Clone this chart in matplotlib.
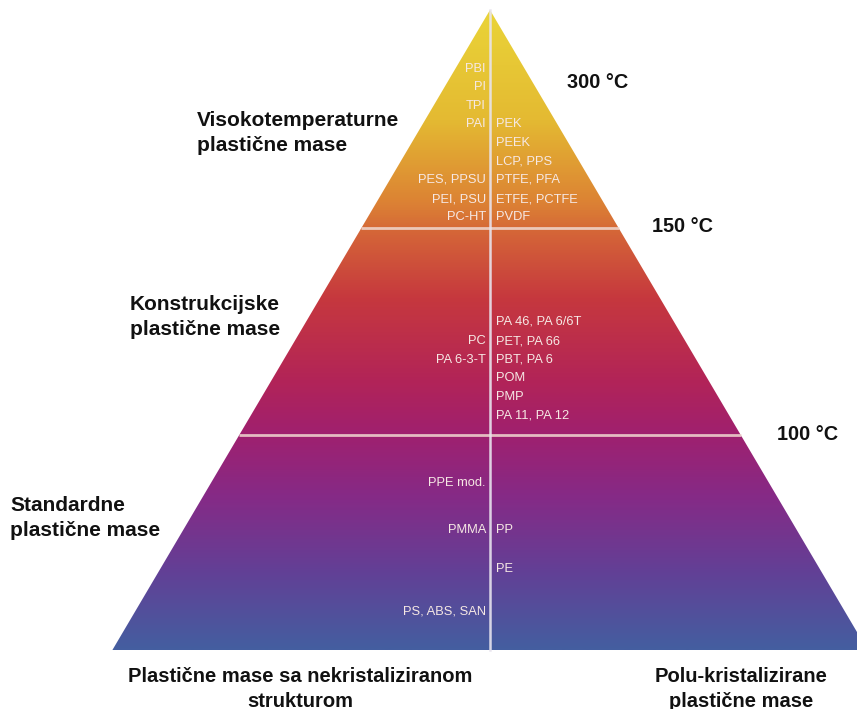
import numpy as np
import matplotlib
matplotlib.use("Agg")
import matplotlib.pyplot as plt
from matplotlib.colors import LinearSegmentedColormap
from matplotlib.patches import Polygon

plt.rcParams['font.family'] = ['Liberation Sans', 'DejaVu Sans']

# --- data ---
temperatures = ["300 °C", "150 °C", "100 °C"]
groups = ["Visokotemperaturne\nplastične mase",
          "Konstrukcijske\nplastične mase",
          "Standardne\nplastične mase"]
bottom_labels = ["Plastične mase sa nekristaliziranom\nstrukturom",
                 "Polu-kristalizirane\nplastične mase"]

# amorphous (left) and semi-crystalline (right) materials, with row positions (px from top)
left_names = ["PBI", "PI", "TPI", "PAI", "PES, PPSU", "PEI, PSU", "PC-HT",
              "PC", "PA 6-3-T",
              "PPE mod.", "PMMA", "PS, ABS, SAN"]
left_rows = [69, 87, 106, 124, 180, 199, 217,
             341, 360,
             483, 530, 612]
right_names = ["PEK", "PEEK", "LCP, PPS", "PTFE, PFA", "ETFE, PCTFE", "PVDF",
               "PA 46, PA 6/6T", "PET, PA 66", "PBT, PA 6", "POM", "PMP", "PA 11, PA 12",
               "PP", "PE"]
right_rows = [124, 143, 162, 180, 199, 217,
              322, 341, 360, 378, 397, 415,
              530, 569]

# --- layout ---
W, H = 857, 709
apex = (490, 10)
base_y = 650
slope = 0.59
band_y = [228, 435]

fig = plt.figure(figsize=(W / 100, H / 100), dpi=100)
ax = fig.add_axes([0, 0, 1, 1])
ax.set_xlim(0, W)
ax.set_ylim(H, 0)
ax.axis("off")

left_x = apex[0] - slope * (base_y - apex[1])
right_x = apex[0] + slope * (base_y - apex[1])
tri = Polygon([apex, (left_x, base_y), (right_x, base_y)], closed=True,
              facecolor="none", edgecolor="none")
ax.add_patch(tri)

stops = [(0.00, (234, 212, 56)),
         (0.17, (228, 186, 50)),
         (0.30, (220, 130, 52)),
         (0.35, (212, 100, 56)),
         (0.45, (198, 56, 62)),
         (0.58, (178, 36, 88)),
         (0.66, (160, 32, 110)),
         (0.76, (134, 42, 134)),
         (0.88, (98, 64, 150)),
         (1.00, (68, 94, 160))]
cmap = LinearSegmentedColormap.from_list(
    "pyr", [(p, tuple(c / 255 for c in rgb)) for p, rgb in stops])
grad = np.linspace(0, 1, 512).reshape(-1, 1)
im = ax.imshow(grad, cmap=cmap, aspect="auto",
               extent=(left_x, right_x, base_y, apex[1]), zorder=1)
im.set_clip_path(tri)

# band separators and central divider
for y in band_y:
    half = slope * (y - apex[1])
    ax.plot([apex[0] - half, apex[0] + half], [y, y], color="#f0d8d0",
            lw=2, alpha=0.85, zorder=2, solid_capstyle="butt")
ax.plot([apex[0], apex[0]], [apex[1], base_y], color="#e8e4ee", lw=1.8,
        alpha=0.9, zorder=2)

txt_col = "#f6e8e4"
for name, y in zip(left_names, left_rows):
    ax.text(apex[0] - 4, y, name, ha="right", va="center", fontsize=9.3,
            color=txt_col, zorder=3)
for name, y in zip(right_names, right_rows):
    ax.text(apex[0] + 6, y, name, ha="left", va="center", fontsize=9.3,
            color=txt_col, zorder=3)

# temperature marks
for t, (x, y) in zip(temperatures, [(567, 83), (652, 227), (777, 434)]):
    ax.text(x, y, t, ha="left", va="center", fontsize=14.3, fontweight="bold",
            color="#111111")

# group labels
for g, (x, y) in zip(groups, [(197, 133), (130, 317), (10, 518)]):
    ax.text(x, y, g, ha="left", va="center", fontsize=15, fontweight="bold",
            color="#111111", linespacing=1.4)

# bottom labels
for b, x in zip(bottom_labels, [300, 741]):
    ax.text(x, 689, b, ha="center", va="center", fontsize=14.5, fontweight="bold",
            color="#111111", linespacing=1.35)

fig.savefig("out.png", dpi=100)
